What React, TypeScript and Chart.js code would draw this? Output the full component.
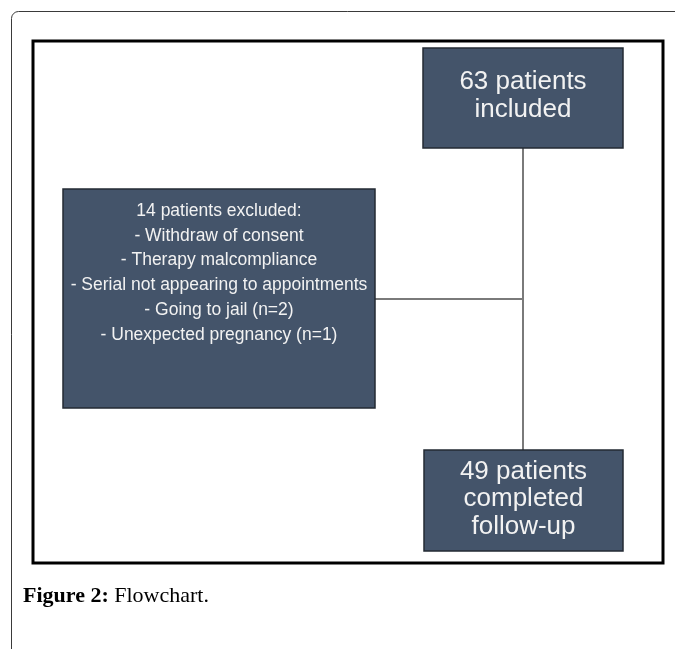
import React, { useEffect, useRef } from "react";
import { Chart, registerables } from "chart.js";

Chart.register(...registerables);

// Flowchart boxes (in page pixel units of the 675x649 figure)
const boxNames = ["included", "excluded", "completed"];
const boxLeft = [423, 63, 424];
const boxRight = [623, 375, 623];
const boxTop = [48, 189, 450];
const boxBottom = [148, 408, 551];
const boxLines: string[][] = [
  ["63 patients", "included"],
  [
    "14 patients excluded:",
    "- Withdraw of consent",
    "- Therapy malcompliance",
    "- Serial not appearing to appointments",
    "- Going to jail (n=2)",
    "- Unexpected pregnancy (n=1)",
  ],
  ["49 patients", "completed", "follow-up"],
];
const boxFontSize = [26, 17.5, 26];
const boxLineHeight = [28.5, 24.8, 27.5];
const boxTextCenterY = [96, 273, 499];

// connector lines
const connVertical = [
  { x: 523, y: 148 },
  { x: 523, y: 450 },
];
const connHorizontal = [
  { x: 375, y: 299 },
  { x: 523, y: 299 },
];

// frames
const innerFrame = { x0: 33, y0: 41, x1: 663, y1: 563 };
const outerFrame = { x0: 11.5, y0: 11.5, x1: 700, y1: 700, r: 7 };

const captionBold = "Figure 2:";
const captionText = " Flowchart.";
const captionPos = { x: 23, y: 596 };

const flowPlugin = {
  id: "flowchart",
  beforeDatasetsDraw(chart: any) {
    const { ctx, scales } = chart;
    const X = (v: number) => scales.x.getPixelForValue(v);
    const Y = (v: number) => scales.y.getPixelForValue(v);
    ctx.save();
    // outer rounded frame
    ctx.strokeStyle = "#3a3a3a";
    ctx.lineWidth = 1;
    const ox0 = X(outerFrame.x0), oy0 = Y(outerFrame.y0);
    const ox1 = X(outerFrame.x1), oy1 = Y(outerFrame.y1);
    ctx.beginPath();
    ctx.moveTo(ox0, oy1);
    ctx.lineTo(ox0, oy0 + outerFrame.r);
    ctx.arcTo(ox0, oy0, ox0 + outerFrame.r, oy0, outerFrame.r);
    ctx.lineTo(ox1, oy0);
    ctx.stroke();
    // inner thick frame
    ctx.strokeStyle = "#000";
    ctx.lineWidth = 3;
    ctx.strokeRect(
      X(innerFrame.x0),
      Y(innerFrame.y0),
      X(innerFrame.x1) - X(innerFrame.x0),
      Y(innerFrame.y1) - Y(innerFrame.y0)
    );
    // caption
    ctx.fillStyle = "#000";
    ctx.textBaseline = "middle";
    ctx.textAlign = "left";
    ctx.font = "bold 22px 'Liberation Serif'";
    ctx.fillText(captionBold, X(captionPos.x), Y(captionPos.y));
    const w = ctx.measureText(captionBold).width;
    ctx.font = "22px 'Liberation Serif'";
    ctx.fillText(captionText, X(captionPos.x) + w, Y(captionPos.y));
    ctx.restore();
  },
  afterDatasetsDraw(chart: any) {
    const { ctx, scales } = chart;
    const X = (v: number) => scales.x.getPixelForValue(v);
    const Y = (v: number) => scales.y.getPixelForValue(v);
    ctx.save();
    boxNames.forEach((_, i) => {
      const x0 = X(boxLeft[i]);
      const x1 = X(boxRight[i]);
      const y0 = Y(boxTop[i]);
      const y1 = Y(boxBottom[i]);
      ctx.fillStyle = "#44546a";
      ctx.fillRect(x0, y0, x1 - x0, y1 - y0);
      ctx.strokeStyle = "#232a33";
      ctx.lineWidth = 1.5;
      ctx.strokeRect(x0, y0, x1 - x0, y1 - y0);
      ctx.fillStyle = "#f2f2f2";
      ctx.font = `${boxFontSize[i]}px 'Liberation Sans', Arial, sans-serif`;
      ctx.textAlign = "center";
      ctx.textBaseline = "middle";
      const lines = boxLines[i];
      const cx = (x0 + x1) / 2;
      const cy = Y(boxTextCenterY[i]);
      const start = cy - ((lines.length - 1) * boxLineHeight[i]) / 2;
      lines.forEach((t, j) => ctx.fillText(t, cx, start + j * boxLineHeight[i]));
    });
    ctx.restore();
  },
};

export default function App() {
  const ref = useRef<HTMLCanvasElement | null>(null);
  useEffect(() => {
    if (!ref.current) return;
    const chart = new Chart(ref.current, {
      type: "scatter",
      data: {
        datasets: [
          {
            type: "line",
            data: connVertical,
            borderColor: "#7a7a7a",
            borderWidth: 2,
            pointRadius: 0,
            fill: false,
          } as any,
          {
            type: "line",
            data: connHorizontal,
            borderColor: "#7a7a7a",
            borderWidth: 2,
            pointRadius: 0,
            fill: false,
          } as any,
        ],
      },
      options: {
        animation: false,
        responsive: false,
        devicePixelRatio: 1,
        layout: { padding: 0 },
        plugins: { legend: { display: false }, tooltip: { enabled: false } },
        scales: {
          x: { type: "linear", min: 0, max: 675, display: false },
          y: { type: "linear", min: 0, max: 649, reverse: true, display: false },
        },
      },
      plugins: [flowPlugin],
    });
    return () => chart.destroy();
  }, []);
  return (
    <div style={{ position: "fixed", left: 0, top: 0, width: 675, height: 649, background: "#fff" }}>
      <canvas ref={ref} width={675} height={649} style={{ display: "block" }} />
    </div>
  );
}
